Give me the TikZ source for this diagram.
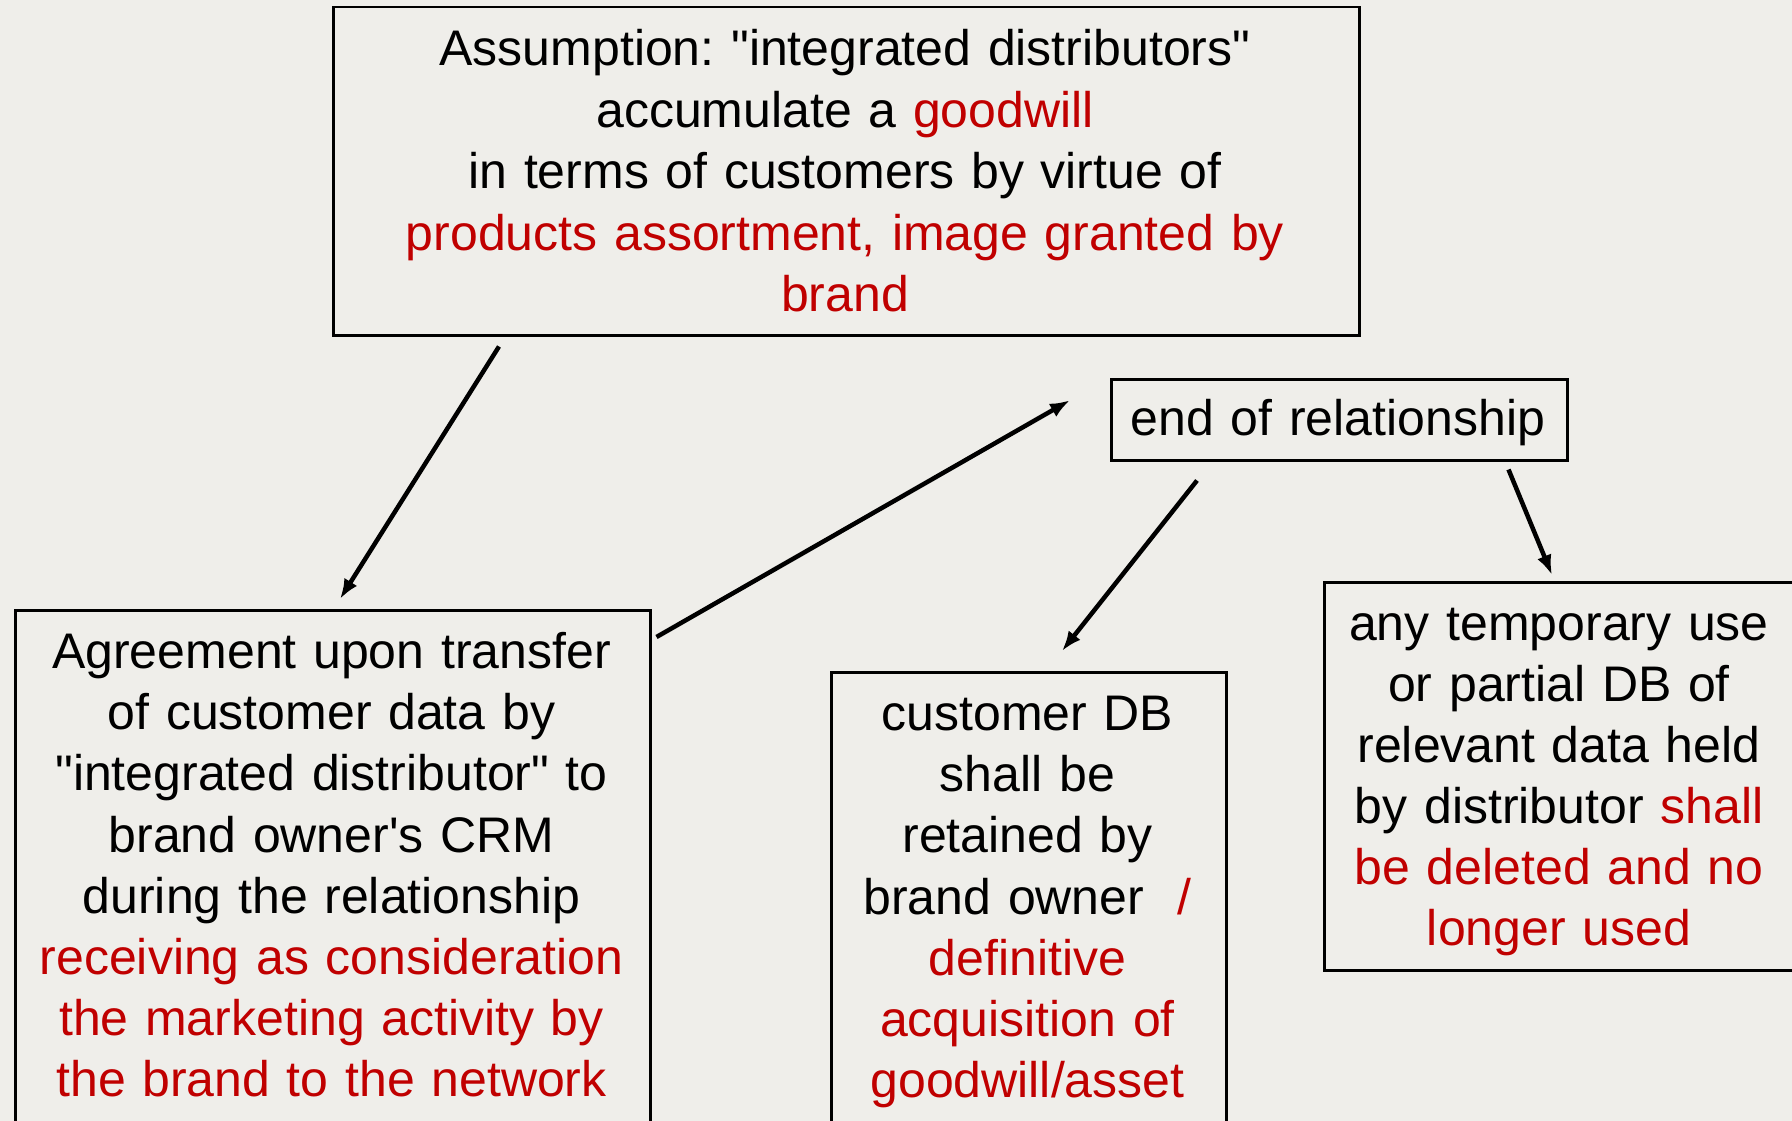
\documentclass[tikz,border=0pt]{standalone}
\usepackage{fontspec}
\setmainfont{Liberation Sans}[Ligatures=TeXOff]
\frenchspacing
\usetikzlibrary{arrows.meta,calc}
\definecolor{dred}{HTML}{C00000}
\definecolor{bgc}{HTML}{EFEEEA}
\tikzset{
  box/.style={draw=black, line width=2.5pt, inner sep=0pt, anchor=north west},
  txt/.style={align=center, text width=1000pt, inner sep=0pt, anchor=base, text=black},
  conn/.style={line width=4.5pt, -{Latex[length=20pt,width=15pt]}}
}
\begin{document}
\begin{tikzpicture}[x=1pt,y=-1pt]
\fill[bgc] (0,0) rectangle (1792,1121);
\useasboundingbox (0,0) rectangle (1792,1121);
% boxes
\node[box, minimum width=1026pt, minimum height=328pt] (topbox) at (332,6) {};
\node[box, minimum width=456pt, minimum height=81pt] (endbox) at (1110,378) {};
\node[box, minimum width=635pt, minimum height=600pt] (leftbox) at (14,609) {};
\node[box, minimum width=395pt, minimum height=540pt] (midbox) at (830,671) {};
\node[box, minimum width=480pt, minimum height=388pt] (rightbox) at (1323,581) {};
% texts
\node[txt, font=\fontsize{50}{61.5}\selectfont] (toptext) at (845,66)
  {Assumption: "integrated distributors"\\
   accumulate a {\color{dred}goodwill}\\
   in terms of customers by virtue of\\
   {\color{dred}products assortment, image granted by}\\
   {\color{dred}brand}};
\node[txt, font=\fontsize{50}{61}\selectfont] (endtext) at (1338,435) {end of relationship};
\node[txt, font=\fontsize{50}{61.2}\selectfont] (lefttext) at (331.5,668.5)
  {Agreement upon transfer\\
   of customer data by\\
   "integrated distributor" to\\
   brand owner's CRM\\
   during the relationship\\
   {\color{dred}receiving as consideration}\\
   {\color{dred}the marketing activity by}\\
   {\color{dred}the brand to the network}};
\node[txt, font=\fontsize{50}{61.2}\selectfont] (midtext) at (1027.5,730.5)
  {customer DB\\
   shall be\\
   retained by\\
   brand owner~~{\color{dred}/}\\
   {\color{dred}definitive}\\
   {\color{dred}acquisition of}\\
   {\color{dred}goodwill/asset}};
\node[txt, font=\fontsize{50}{61}\selectfont] (righttext) at (1559,640)
  {any temporary use\\
   or partial DB of\\
   relevant data held\\
   by distributor {\color{dred}shall}\\
   {\color{dred}be deleted and no}\\
   {\color{dred}longer used}};
% connector ends
\coordinate (a1s) at ($(topbox.south west)+(167,10)$);
\coordinate (a1e) at ($(leftbox.north west)+(326,-10)$);
\coordinate (a2s) at ($(leftbox.north east)+(5,28)$);
\coordinate (a2e) at ($(endbox.west)+(-40,-19.5)$);
\coordinate (a3s) at ($(endbox.south west)+(87,19)$);
\coordinate (a3e) at ($(midbox.north west)+(232,-20)$);
\coordinate (a4s) at ($(endbox.south east)+(-60,8)$);
\coordinate (a4e) at ($(rightbox.north west)+(229,-6)$);
\draw[conn] (a1s) -- (a1e);
\draw[conn] (a2s) -- (a2e);
\draw[conn] (a3s) -- (a3e);
\draw[conn] (a4s) -- (a4e);
\end{tikzpicture}
\end{document}
